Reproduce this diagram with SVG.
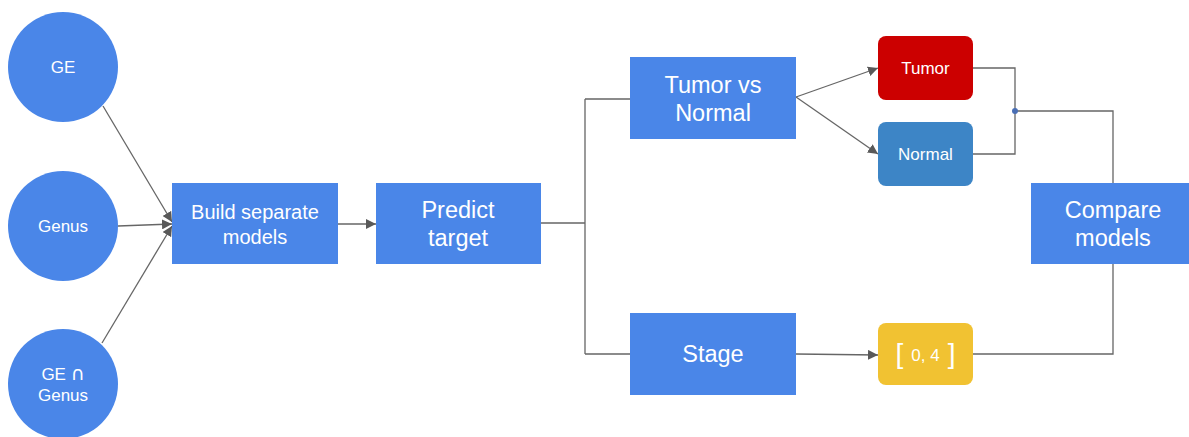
<svg xmlns="http://www.w3.org/2000/svg" width="1189" height="437" viewBox="0 0 1189 437">
<defs>
<marker id="arr" viewBox="0 0 10 10" refX="10" refY="5" markerWidth="10" markerHeight="10" markerUnits="userSpaceOnUse" orient="auto">
<path d="M0,0 L10,5 L0,10 z" fill="#595959"/>
</marker>
<style>
.e{fill:none;stroke:#666666;stroke-width:1.3}
.a{marker-end:url(#arr)}
.c{fill:#4a86e8}
.b{fill:#4a86e8}
text{font-family:"Liberation Sans",Arial,sans-serif;fill:#ffffff;text-anchor:middle}
.s{font-size:17px}
.m{font-size:20px}
.l{font-size:23.5px}
</style>
</defs>
<rect width="1189" height="437" fill="#ffffff"/>
<g id="connectors">
<path class="e a" d="M103,106 L172,222"/>
<path class="e a" d="M118,226 L172,224"/>
<path class="e a" d="M102,343 L172,226"/>
<path class="e a" d="M338,224 L376,224"/>
<path class="e" d="M541,223 L585,223 M585,99 L585,354 M585,99 L630,99 M585,354 L630,354"/>
<path class="e a" d="M796,97 L878,68"/>
<path class="e a" d="M796,97 L878,154"/>
<path class="e a" d="M796,354 L878,355"/>
<path class="e" d="M973,68 L1015,68 L1015,154 L973,154"/>
<path class="e" d="M1015,111 L1113,111 L1113,183"/>
<path class="e" d="M973,354 L1113,354 L1113,264"/>
<circle cx="1015" cy="111" r="3" fill="#4a6fb5"/>
</g>
<g id="ge"><circle class="c" cx="63" cy="67" r="55"/><text class="s" x="63" y="73">GE</text></g>
<g id="genus"><circle class="c" cx="63" cy="226" r="55"/><text class="s" x="63" y="232">Genus</text></g>
<g id="ge-genus"><circle class="c" cx="63" cy="384" r="55"/><text class="s" x="63" y="380">GE <tspan font-family="'DejaVu Sans',sans-serif" font-size="19">∩</tspan></text><text class="s" x="63" y="401">Genus</text></g>
<g id="build"><rect class="b" x="172" y="183" width="166" height="81"/><text class="m" x="255" y="219">Build separate</text><text class="m" x="255" y="244">models</text></g>
<g id="predict"><rect class="b" x="376" y="183" width="165" height="81"/><text class="l" x="458" y="218">Predict</text><text class="l" x="458" y="246">target</text></g>
<g id="tvn"><rect class="b" x="630" y="57" width="166" height="82"/><text class="l" x="713" y="93">Tumor vs</text><text class="l" x="713" y="121">Normal</text></g>
<g id="stage"><rect class="b" x="630" y="313" width="166" height="82"/><text class="l" x="713" y="362">Stage</text></g>
<g id="tumor"><rect x="878" y="36" width="95" height="64" rx="8" fill="#cc0000"/><text class="s" x="925.5" y="74">Tumor</text></g>
<g id="normal"><rect x="878" y="122" width="95" height="64" rx="8" fill="#3d85c6"/><text class="s" x="925.5" y="160">Normal</text></g>
<g id="range"><rect x="878" y="323" width="95" height="62" rx="8" fill="#f1c232"/><text x="925.5" y="361"><tspan font-size="28" dy="2">[</tspan><tspan font-size="17" dx="8" dy="-2">0, 4</tspan><tspan font-size="28" dx="8" dy="2">]</tspan></text></g>
<g id="compare"><rect class="b" x="1031" y="183" width="158" height="81"/><text class="l" x="1113" y="218">Compare</text><text class="l" x="1113" y="246">models</text></g>
</svg>
